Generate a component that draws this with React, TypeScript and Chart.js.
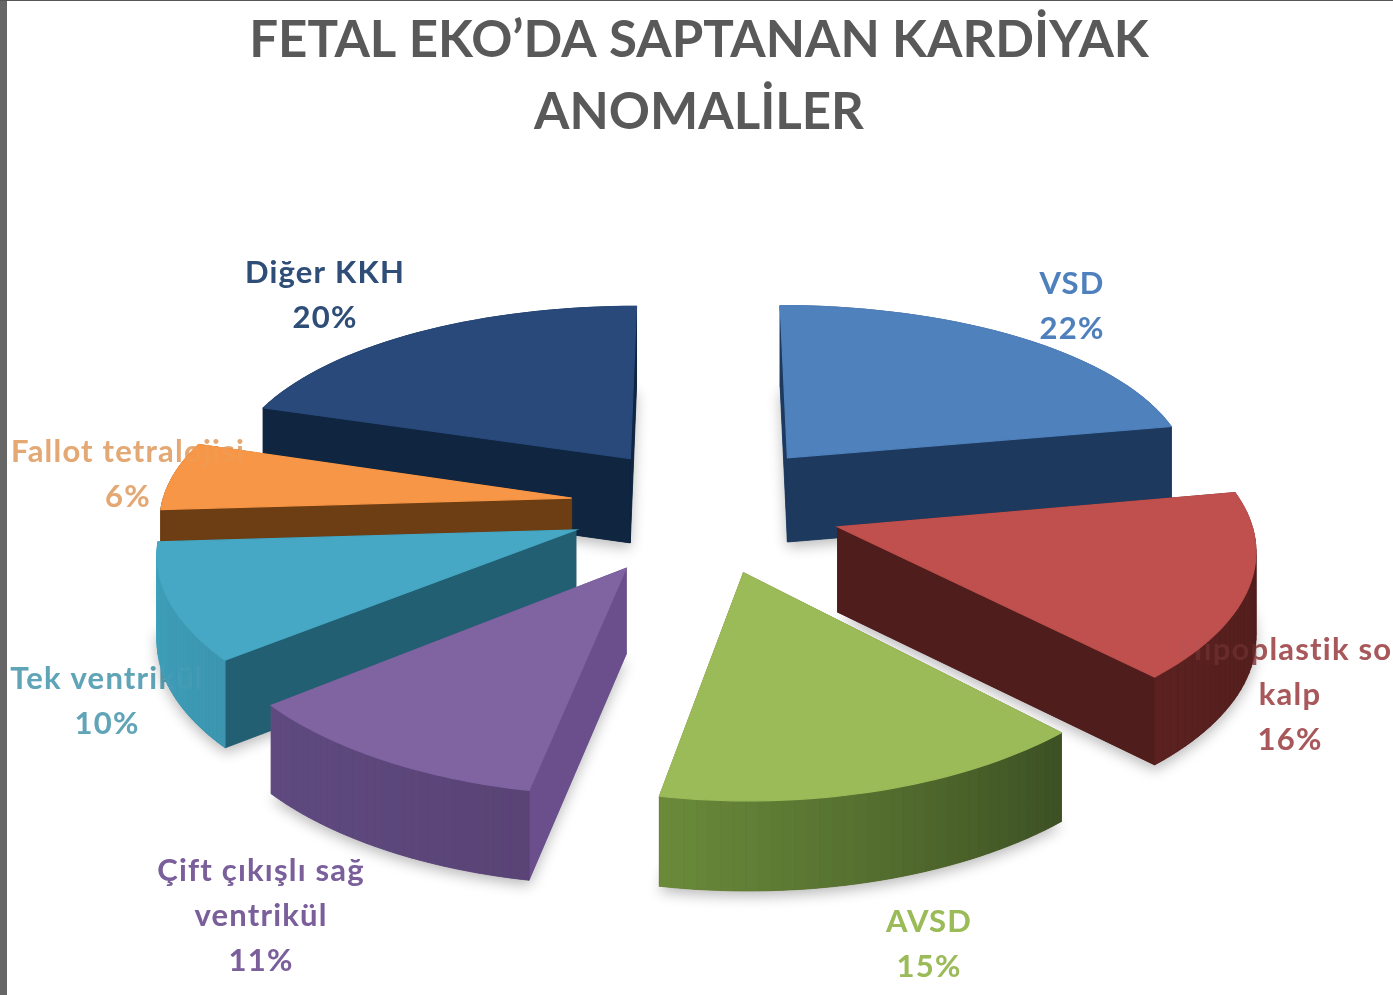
import React, { useEffect, useRef } from "react";
import { Chart, registerables } from "chart.js";

Chart.register(...registerables);

const titleLines = ["FETAL EKO’DA SAPTANAN KARDİYAK", "ANOMALİLER"];
const categories = ["VSD", "Hipoplastik sol kalp", "AVSD", "Çift çıkışlı sağ ventrikül", "Tek ventrikül", "Fallot tetralojisi", "Diğer KKH"];
const values = [22, 16, 15, 11, 10, 6, 20];
const labelLines = [["VSD"], ["Hipoplastik sol", "kalp"], ["AVSD"], ["Çift çıkışlı sağ", "ventrikül"], ["Tek ventrikül"], ["Fallot tetralojisi"], ["Diğer KKH"]];

const topColors = ["#4f81bd", "#c0504d", "#9bbb59", "#8064a2", "#46a8c4", "#f79646", "#28497a"];
const edgeColors = ["#1d3a5e", "#4f1d1c", "#6a3d14", "#6a4f8c", "#235f72", "#6d3d14", "#0f2540"];
const stripStart = ["#1d3a5e", "#4f1d1c", "#3d5124", "#5a4476", "#3c96b0", "#6d3d14", "#0f2540"];
const stripEnd = ["#1d3a5e", "#5a2120", "#6a8a3a", "#5f4a80", "#41a3bf", "#6d3d14", "#0f2540"];
const labelColors = ["#4f81bd", "#a8585a", "#9bbb59", "#7a5f9c", "#60a5b8", "#e3a874", "#2f4f78"];
const labelCenters = [[1072, 284], [1290, 650], [929, 922], [261, 871], [107, 679], [128, 452], [325, 273]];
const explode = [136, 140, 140, 146, 135, 133, 127];

const RADIUS = 410, CX = 703, CY = 506, TILT = 0.444, PERSP = 0.0003, DEPTH = 85, OFFSET_Y = 1.07;
const LABEL_FONT = "bold 31px Lato";

function project(X: number, Y: number, z: number) {
  const s = 1 / (1 - PERSP * Y);
  return [CX + X * Math.pow(s, 0.8), CY + TILT * Y * s + z * DEPTH * (1 + (s - 1) * 0.3)];
}

function mix(a: string, b: string, t: number) {
  const p = (c: string, i: number) => parseInt(c.slice(i, i + 2), 16);
  const v = [1, 3, 5].map((i) => Math.round(p(a, i) + (p(b, i) - p(a, i)) * t));
  return `rgb(${v[0]},${v[1]},${v[2]})`;
}

function poly(ctx: CanvasRenderingContext2D, pts: number[][]) {
  ctx.beginPath();
  pts.forEach((p, i) => (i ? ctx.lineTo(p[0], p[1]) : ctx.moveTo(p[0], p[1])));
  ctx.closePath();
}

function drawLabels(ctx: CanvasRenderingContext2D) {
  ctx.font = LABEL_FONT;
  (ctx as any).letterSpacing = "1.2px";
  ctx.textAlign = "center";
  ctx.textBaseline = "middle";
  categories.forEach((_, i) => {
    const lines = [...labelLines[i], values[i] + "%"];
    ctx.fillStyle = labelColors[i];
    lines.forEach((t, j) => ctx.fillText(t, labelCenters[i][0], labelCenters[i][1] + j * 45));
  });
  (ctx as any).letterSpacing = "0px";
}

const pie3d = {
  id: "pie3d",
  beforeDatasetsDraw(chart: any) {
    const ctx: CanvasRenderingContext2D = chart.ctx;
    const meta = chart.getDatasetMeta(0);
    drawLabels(ctx);
    const slices = meta.data.map((el: any, i: number) => {
      const k = RADIUS / el.outerRadius;
      const mid = (el.startAngle + el.endAngle) / 2;
      const off = el.options.offset;
      return { i, a0: el.startAngle, a1: el.endAngle, R: el.outerRadius * k, ox: Math.cos(mid) * off, oy: Math.sin(mid) * off * OFFSET_Y };
    });
    slices.sort((a: any, b: any) => a.oy - b.oy);
    for (const s of slices) {
      const N = 36;
      const arc: number[][] = [];
      for (let n = 0; n <= N; n++) {
        const a = s.a0 + ((s.a1 - s.a0) * n) / N;
        arc.push([s.ox + s.R * Math.cos(a), s.oy + s.R * Math.sin(a)]);
      }
      const apex = [s.ox, s.oy];
      const P = (w: number[], z: number) => project(w[0], w[1], z);
      ctx.save();
      ctx.shadowColor = "rgba(0,0,0,0.28)";
      ctx.shadowBlur = 14;
      ctx.shadowOffsetY = 5;
      ctx.fillStyle = edgeColors[s.i];
      poly(ctx, [P(apex, 1), ...arc.map((w) => P(w, 1))]);
      ctx.fill();
      ctx.restore();
      const quads: { y: number; pts: number[][]; c: string }[] = [];
      const radial = (w: number[]) => ({ y: (w[1] + apex[1]) / 2, pts: [P(apex, 0), P(w, 0), P(w, 1), P(apex, 1)], c: edgeColors[s.i] });
      quads.push(radial(arc[0]), radial(arc[N]));
      for (let n = 0; n < N; n++) {
        const w0 = arc[n], w1 = arc[n + 1];
        quads.push({ y: (w0[1] + w1[1]) / 2, pts: [P(w0, 0), P(w1, 0), P(w1, 1), P(w0, 1)], c: mix(stripStart[s.i], stripEnd[s.i], n / (N - 1)) });
      }
      quads.sort((a, b) => a.y - b.y);
      for (const q of quads) {
        poly(ctx, q.pts);
        ctx.fillStyle = q.c;
        ctx.strokeStyle = q.c;
        ctx.lineWidth = 0.8;
        ctx.fill();
        ctx.stroke();
      }
      poly(ctx, [P(apex, 0), ...arc.map((w) => P(w, 0))]);
      ctx.fillStyle = topColors[s.i];
      ctx.strokeStyle = topColors[s.i];
      ctx.lineWidth = 1.2;
      ctx.fill();
      ctx.stroke();
    }
    ctx.save();
    ctx.globalAlpha = 0.22;
    drawLabels(ctx);
    ctx.restore();
    return false;
  },
};

export default function App() {
  const ref = useRef<HTMLCanvasElement>(null);
  useEffect(() => {
    const chart = new Chart(ref.current!, {
      type: "pie",
      data: {
        labels: categories,
        datasets: [{ data: values, backgroundColor: topColors, borderWidth: 0, offset: explode }],
      },
      plugins: [pie3d],
      options: {
        animation: false,
        responsive: false,
        layout: { padding: { left: 5 } },
        plugins: {
          legend: { display: false },
          tooltip: { enabled: false },
          title: {
            display: true,
            text: titleLines,
            color: "#595959",
            font: { family: "Lato", weight: "bold", size: 51, lineHeight: 1.41 },
            padding: { top: 5, bottom: 0 },
          },
        },
      },
    } as any);
    return () => chart.destroy();
  }, []);
  return (
    <div style={{ position: "fixed", left: 0, top: 0, width: 1393, height: 995, overflow: "hidden", background: "#fff" }}>
      <canvas ref={ref} width={1393} height={995} style={{ position: "absolute", left: 0, top: 0, display: "block", filter: "blur(0.7px)" }} />
      <div style={{ position: "absolute", left: 0, top: 0, width: 7, height: 995, background: "#666" }} />
      <div style={{ position: "absolute", left: 0, top: 0, width: 1393, height: 1, background: "#555" }} />
    </div>
  );
}
